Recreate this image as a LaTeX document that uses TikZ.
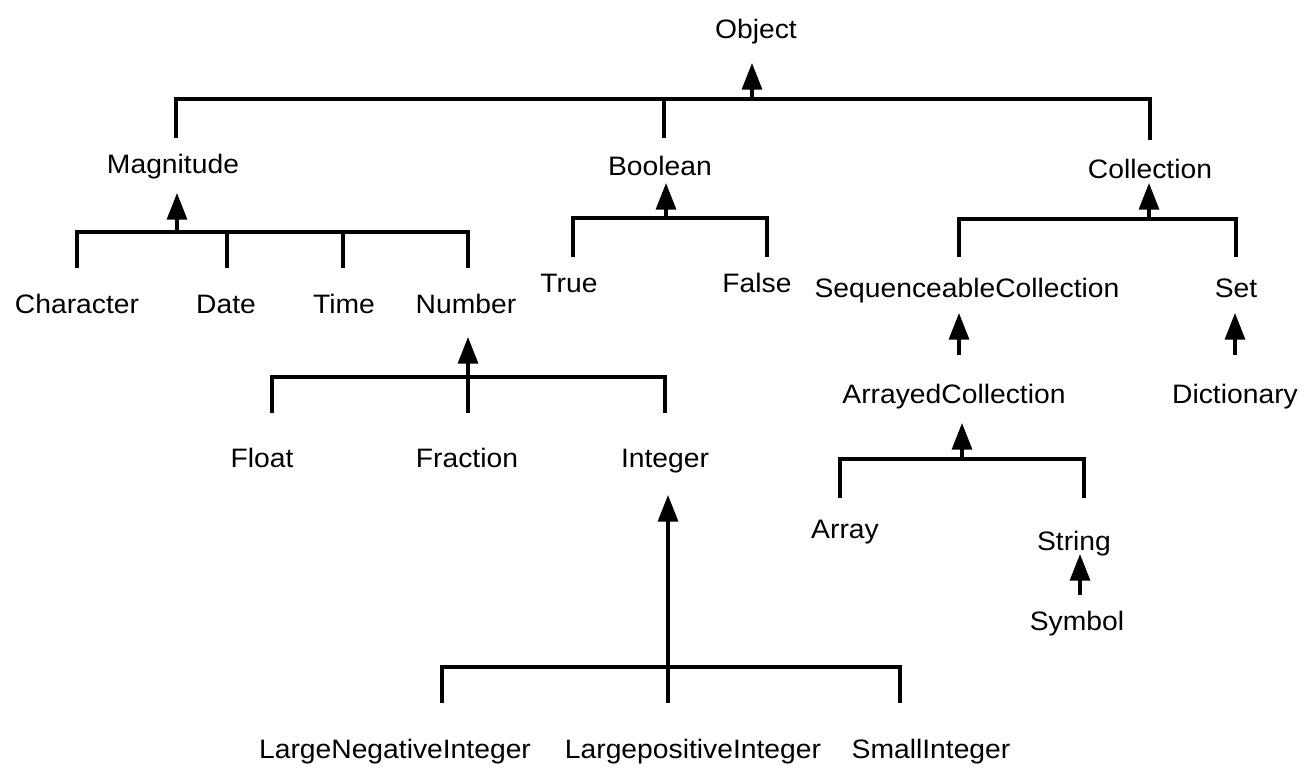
\documentclass[tikz,border=0pt]{standalone}
\usepackage{fontspec}
\setmainfont{Liberation Sans}[FakeStretch=1.06]
\usetikzlibrary{arrows.meta}
\begin{document}
\begin{tikzpicture}[x=0.75pt,y=-0.75pt,
  lbl/.style={anchor=base,inner sep=0pt,font=\fontsize{20}{24}\selectfont},
  link/.style={line width=2.4pt},
  isa/.style={line width=2.4pt,-{Triangle[length=20pt,width=15pt]}}]
\useasboundingbox (0,0) rectangle (1307,769);
% ---------- labels ----------
\node[lbl] (Object) at (756,38) {Object};
\node[lbl] (Magnitude) at (173,173) {Magnitude};
\node[lbl] (Boolean) at (660,175) {Boolean};
\node[lbl] (Collection) at (1150,178) {Collection};
\node[lbl] (Character) at (77,313) {Character};
\node[lbl] (Date) at (226,313) {Date};
\node[lbl] (Time) at (344,313) {Time};
\node[lbl] (Number) at (466,313) {Number};
\node[lbl] (True) at (569,292) {True};
\node[lbl] (False) at (757,292) {False};
\node[lbl] (Seq) at (967,297) {SequenceableCollection};
\node[lbl] (Set) at (1236,297) {Set};
\node[lbl] (Arrayed) at (954,403) {ArrayedCollection};
\node[lbl] (Dictionary) at (1235,403) {Dictionary};
\node[lbl] (Float) at (262,467) {Float};
\node[lbl] (Fraction) at (467,467) {Fraction};
\node[lbl] (Integer) at (665,467) {Integer};
\node[lbl] (Array) at (845,538) {Array};
\node[lbl] (String) at (1074,550) {String};
\node[lbl] (Symbol) at (1077,630) {Symbol};
\node[lbl] (LNI) at (395,758) {LargeNegativeInteger};
\node[lbl] (LPI) at (693,758) {LargepositiveInteger};
\node[lbl] (SI) at (931,758) {SmallInteger};
% ---------- Object level ----------
\coordinate (tObj) at (752,63);
\coordinate (jObj) at (752,99);
\coordinate (bObjL) at (176,99);
\coordinate (bObjM) at (664,99);
\coordinate (bObjR) at (1150,99);
\coordinate (dMag) at (176,138);
\coordinate (dBool) at (664,138);
\coordinate (dColl) at (1150,140);
\draw[link] (dMag) -- (bObjL) -- (bObjR) -- (dColl);
\draw[link] (bObjM) -- (dBool);
\draw[isa] (jObj) -- (tObj);
% ---------- Magnitude ----------
\coordinate (tMag) at (177,193);
\coordinate (jMag) at (177,232);
\coordinate (bMagL) at (77,232);
\coordinate (bMagD) at (227,232);
\coordinate (bMagT) at (343,232);
\coordinate (bMagR) at (468,232);
\coordinate (dChar) at (77,268);
\coordinate (dDate) at (227,268);
\coordinate (dTime) at (343,268);
\coordinate (dNum) at (468,268);
\draw[link] (dChar) -- (bMagL) -- (bMagR) -- (dNum);
\draw[link] (bMagD) -- (dDate);
\draw[link] (bMagT) -- (dTime);
\draw[isa] (jMag) -- (tMag);
% ---------- Boolean ----------
\coordinate (tBool) at (666,183);
\coordinate (jBool) at (666,218);
\coordinate (bBoolL) at (573,218);
\coordinate (bBoolR) at (767,218);
\coordinate (dTrue) at (573,257);
\coordinate (dFalse) at (767,257);
\draw[link] (dTrue) -- (bBoolL) -- (bBoolR) -- (dFalse);
\draw[isa] (jBool) -- (tBool);
% ---------- Collection ----------
\coordinate (tColl) at (1149,183);
\coordinate (jColl) at (1149,219);
\coordinate (bCollL) at (959,219);
\coordinate (bCollR) at (1236,219);
\coordinate (dSeq) at (959,257);
\coordinate (dSet) at (1236,257);
\draw[link] (dSeq) -- (bCollL) -- (bCollR) -- (dSet);
\draw[isa] (jColl) -- (tColl);
% ---------- single links ----------
\coordinate (tSeq) at (959,313);
\coordinate (sArr) at (959,355);
\draw[isa] (sArr) -- (tSeq);
\coordinate (tSet) at (1235,313);
\coordinate (sDict) at (1235,355);
\draw[isa] (sDict) -- (tSet);
\coordinate (tStr) at (1080,554);
\coordinate (sSym) at (1080,595);
\draw[isa] (sSym) -- (tStr);
% ---------- ArrayedCollection ----------
\coordinate (tArr) at (962,423);
\coordinate (jArr) at (962,459);
\coordinate (bArrL) at (840,459);
\coordinate (bArrR) at (1084,459);
\coordinate (dArray) at (840,498);
\coordinate (dString) at (1084,498);
\draw[link] (dArray) -- (bArrL) -- (bArrR) -- (dString);
\draw[isa] (jArr) -- (tArr);
% ---------- Number ----------
\coordinate (tNum) at (468,337);
\coordinate (jNum) at (468,377);
\coordinate (bNumL) at (272,377);
\coordinate (bNumR) at (665,377);
\coordinate (dFloat) at (272,413);
\coordinate (dFrac) at (468,413);
\coordinate (dInt) at (665,413);
\draw[link] (dFloat) -- (bNumL) -- (bNumR) -- (dInt);
\draw[link] (jNum) -- (dFrac);
\draw[isa] (jNum) -- (tNum);
% ---------- Integer ----------
\coordinate (tInt) at (668,495);
\coordinate (jInt) at (668,667);
\coordinate (bIntL) at (442,667);
\coordinate (bIntR) at (900,667);
\coordinate (dLNI) at (442,703);
\coordinate (dLPI) at (668,703);
\coordinate (dSI) at (900,703);
\draw[link] (dLNI) -- (bIntL) -- (bIntR) -- (dSI);
\draw[link] (jInt) -- (dLPI);
\draw[isa] (jInt) -- (tInt);
\end{tikzpicture}
\end{document}
